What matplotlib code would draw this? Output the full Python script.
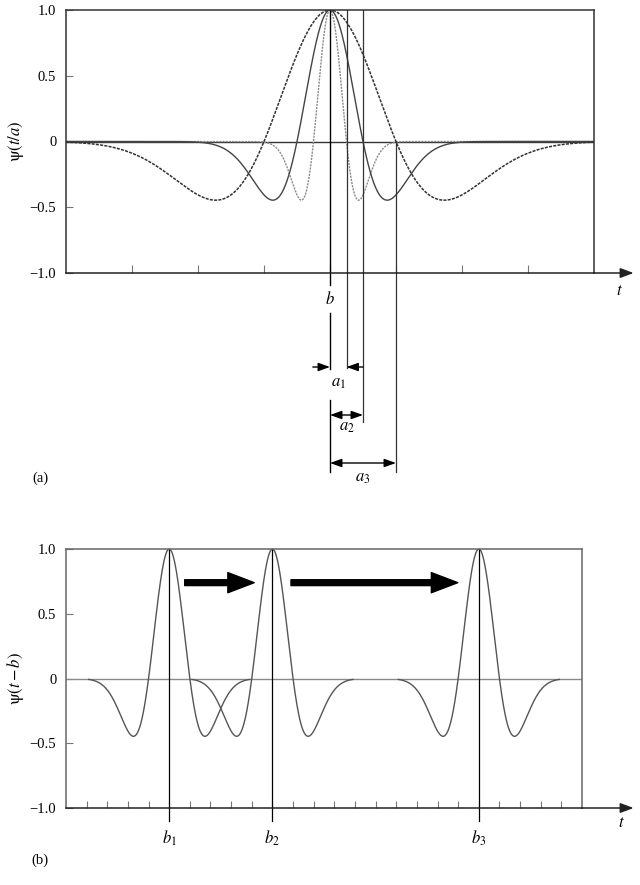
"""Mexican hat wavelet: dilation (a) and translation (b)."""
import matplotlib
matplotlib.use("Agg")
import matplotlib.pyplot as plt
import numpy as np

plt.rcParams["font.family"] = ["Liberation Serif", "DejaVu Serif"]
plt.rcParams["mathtext.fontset"] = "stix"

# panel (a): one position, three dilations
center_b = 0.0
scales_a = [0.25, 0.5, 1.0]
scale_names = ["a_1", "a_2", "a_3"]
xlim_a = (-4.0, 4.0)
xticks_a = [-3, -2, -1, 0, 1, 2, 3]

# panel (b): one dilation, three positions
shifts_b = [5.0, 10.0, 20.0]
shift_names = ["b_1", "b_2", "b_3"]
scale_b = 1.0
xlim_b = (0.0, 25.0)
xticks_b = list(range(1, 25))

yticks = [-1.0, -0.5, 0.0, 0.5, 1.0]
ytick_labels = ["\u22121.0", "\u22120.5", "0", "0.5", "1.0"]


def mexican_hat(x):
    return (1 - x ** 2) * np.exp(-x ** 2 / 2)


W, H = 640, 885
fig = plt.figure(figsize=(W / 100, H / 100), dpi=100)
ax_a = fig.add_axes([66 / W, 1 - 273 / H, 528 / W, 263 / H])
ax_b = fig.add_axes([66 / W, 1 - 808 / H, 516 / W, 259 / H])


def py_a(p):
    # pixel row -> data y, panel (a)
    return -1 - (p - 273) / 131.5


def py_b(p):
    return -1 - (p - 808) / 129.5


def style_axes(ax, xlim, xticks, spine_col, tick_len):
    ax.set_xlim(*xlim)
    ax.set_ylim(-1, 1)
    ax.set_xticks(xticks)
    ax.set_xticklabels([])
    ax.set_yticks(yticks)
    ax.set_yticklabels(ytick_labels)
    ax.tick_params(axis="x", direction="in", length=tick_len, width=0.8, color="#777777")
    ax.tick_params(axis="y", direction="in", length=5, width=0.8, color="#777777",
                   labelsize=10.5, pad=7)
    for s in ax.spines.values():
        s.set_color(spine_col)
        s.set_linewidth(1.1)
    ax.spines["bottom"].set_color("#222222")


# ---- panel (a)
ax = ax_a
style_axes(ax, xlim_a, xticks_a, "#333333", 6)
ax.axhline(0, color="#333333", lw=1.0)
x = np.linspace(*xlim_a, 1200)
curve_styles = [dict(color="#8a8a8a", lw=1.0, ls=(0, (1.5, 0.8))),
                dict(color="#444444", lw=1.0, ls="-"),
                dict(color="#333333", lw=1.1, ls=(0, (2.0, 0.8)))]
for a, st in zip(scales_a, curve_styles):
    ax.plot(x, mexican_hat((x - center_b) / a), **st)

# vertical guides
ax.plot([center_b] * 2, [1, py_a(285)], color="k", lw=1.0, clip_on=False)
ax.plot([center_b] * 2, [py_a(313), py_a(369)], color="k", lw=1.0, clip_on=False)
ax.plot([center_b] * 2, [py_a(400), py_a(472)], color="k", lw=1.0, clip_on=False)
ax.plot([center_b + scales_a[0]] * 2, [1, py_a(368)], color="#333333", lw=0.9, clip_on=False)
ax.plot([center_b + scales_a[1]] * 2, [1, py_a(422)], color="#333333", lw=0.9, clip_on=False)
ax.plot([center_b + scales_a[2]] * 2, [0, py_a(472)], color="#333333", lw=0.9, clip_on=False)

ax.text(center_b, py_a(300), "$b$", ha="center", va="center", fontsize=12)

head = dict(arrowstyle="-|>,head_length=0.7,head_width=0.25", color="k", lw=1.0,
            shrinkA=0, shrinkB=0)
dbl = dict(arrowstyle="<|-|>,head_length=0.7,head_width=0.25", color="k", lw=1.0,
           shrinkA=0, shrinkB=0)
y1 = py_a(367)
ax.annotate("", xy=(center_b, y1), xytext=(center_b - 0.26, y1),
            arrowprops=head, annotation_clip=False)
ax.annotate("", xy=(center_b + scales_a[0], y1), xytext=(center_b + scales_a[1], y1),
            arrowprops=head, annotation_clip=False)
for a, yy in zip(scales_a[1:], [py_a(415), py_a(463)]):
    ax.annotate("", xy=(center_b + a, yy), xytext=(center_b, yy),
                arrowprops=dbl, annotation_clip=False)
for a, name, yy in zip(scales_a, scale_names, [py_a(383), py_a(427), py_a(478)]):
    ax.text(center_b + a / 2, yy, f"${name}$", ha="center", va="center", fontsize=12)

ax.annotate("", xy=(4.6, -1), xytext=(xlim_a[1], -1),
            arrowprops=dict(arrowstyle="-|>,head_length=0.8,head_width=0.3",
                            color="#222222", lw=1.1, shrinkA=0, shrinkB=0),
            annotation_clip=False)
ax.text(4.39, py_a(291), "$t$", ha="center", va="center", fontsize=12)

# ---- panel (b)
ax = ax_b
style_axes(ax, xlim_b, xticks_b, "#666666", 5)
ax.axhline(0, color="#8a8a8a", lw=1.0)
for b in shifts_b:
    xs = np.linspace(b - 3.9, b + 3.9, 600)
    ax.plot(xs, mexican_hat((xs - b) / scale_b), color="#555555", lw=1.0)
for b, name in zip(shifts_b, shift_names):
    ax.plot([b, b], [1, py_b(821)], color="k", lw=0.9, clip_on=False)
    ax.text(b, py_b(838), f"${name}$", ha="center", va="center", fontsize=12)

big = dict(arrowstyle="simple,head_length=1.9,head_width=1.45,tail_width=0.42",
           fc="k", ec="k", mutation_scale=10, shrinkA=0, shrinkB=0)
ya = 0.74
ax.annotate("", xy=(9.12, ya), xytext=(5.75, ya), arrowprops=big)
ax.annotate("", xy=(18.98, ya), xytext=(10.9, ya), arrowprops=big)

ax.annotate("", xy=(27.5, -1), xytext=(xlim_b[1], -1),
            arrowprops=dict(arrowstyle="-|>,head_length=0.8,head_width=0.3",
                            color="#222222", lw=1.1, shrinkA=0, shrinkB=0),
            annotation_clip=False)
ax.text(26.9, py_b(823), "$t$", ha="center", va="center", fontsize=12)

fig.text(16 / W, 1 - 141 / H, r"$\mathrm{\psi}(t/a)$", rotation=90,
         ha="center", va="center", fontsize=12)
fig.text(16 / W, 1 - 679 / H, r"$\mathrm{\psi}(t-b)$", rotation=90,
         ha="center", va="center", fontsize=12)
fig.text(40 / W, 1 - 478 / H, "(a)", ha="center", va="center", fontsize=10.5)
fig.text(40 / W, 1 - 860 / H, "(b)", ha="center", va="center", fontsize=10.5)

fig.savefig("out.png", dpi=100)
